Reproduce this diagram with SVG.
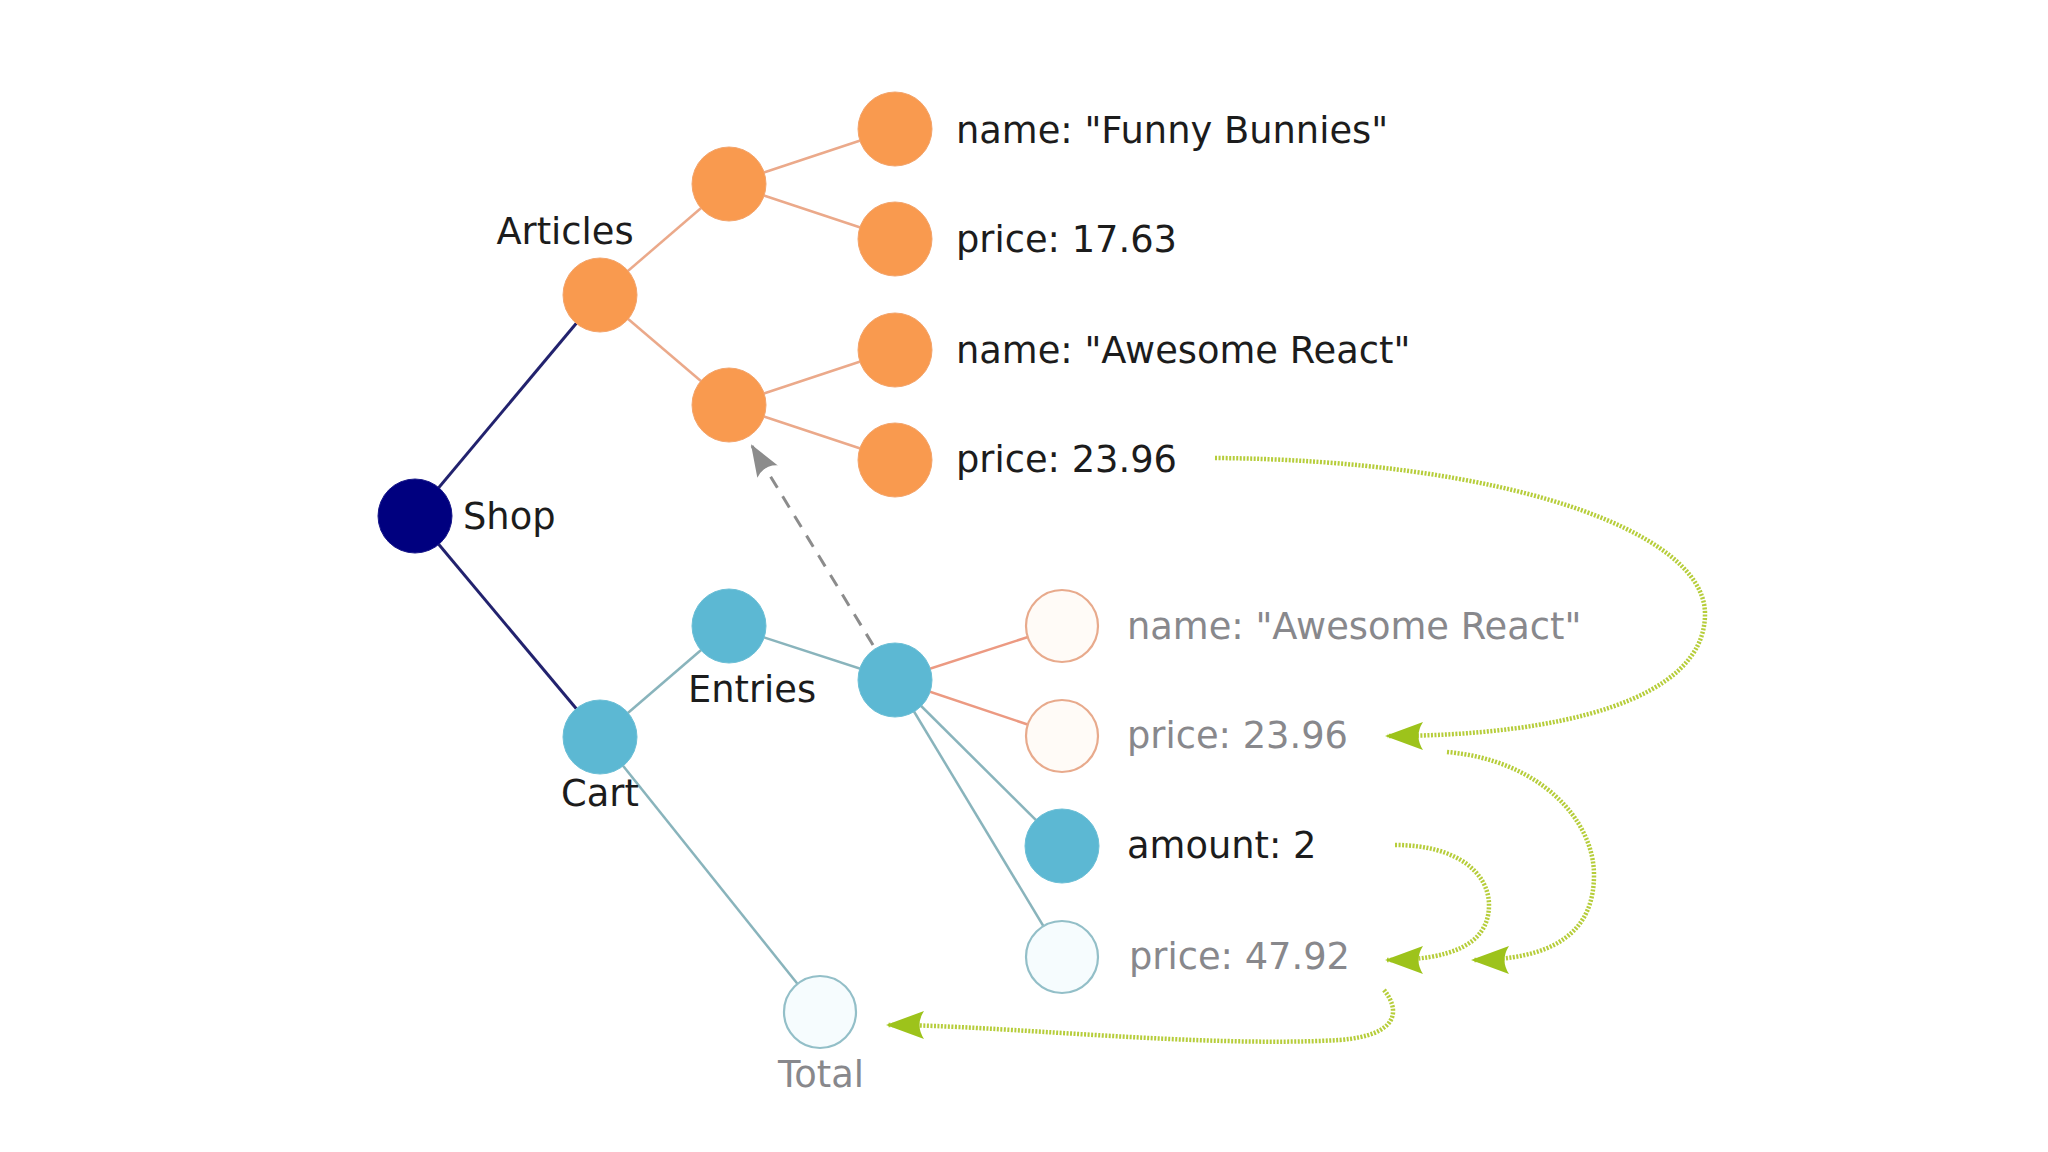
<svg xmlns="http://www.w3.org/2000/svg" width="2048" height="1152" viewBox="0 0 2048 1152">
<style>
  text { font-family: "DejaVu Sans", "Liberation Sans", sans-serif; font-size: 36.8px; }
  .lbl { fill: #1c1c1c; }
  .dim { fill: #88888c; }
  .orange { fill: #f99a4f; stroke: #f3a46c; stroke-width: 1; }
  .blue { fill: #5cb8d3; stroke: #6cbfd6; stroke-width: 1; }
  .navy { fill: #00007f; stroke: #1a1a8a; stroke-width: 1; }
  .hollow-o { fill: #fffbf7; stroke: #e8aa8c; stroke-width: 2.2; }
  .hollow-b { fill: #f6fcfe; stroke: #93bfc8; stroke-width: 2.2; }
  .e-navy { stroke: #22226e; stroke-width: 3; fill: none; }
  .e-orange { stroke: #eba98a; stroke-width: 2.5; fill: none; }
  .e-orange2 { stroke: #ec9a82; stroke-width: 2.5; fill: none; }
  .e-blue { stroke: #89b4bc; stroke-width: 2.5; fill: none; }
  .ref { stroke: #8c8c8c; stroke-width: 3; stroke-dasharray: 13 10; fill: none; }
  .flow { stroke: #b6cd3a; stroke-width: 4.5; stroke-dasharray: 2 1.5; fill: none; }
</style>
<defs>
  <marker id="greenHead" markerUnits="userSpaceOnUse" viewBox="-40 -16 42 32" refX="0" refY="0" markerWidth="42" markerHeight="32" orient="auto" overflow="visible">
    <path d="M2,0 L-36,-14 Q-27,0 -36,14 Z" fill="#9dc31b" stroke="none"/>
  </marker>
  <marker id="grayHead" markerUnits="userSpaceOnUse" viewBox="-32 -13 34 26" refX="0" refY="0" markerWidth="34" markerHeight="26" orient="auto" overflow="visible">
    <path d="M2,0 L-30,-12 Q-22,0 -30,12 Z" fill="#8c8c8c" stroke="none"/>
  </marker>
</defs>
<rect width="2048" height="1152" fill="#ffffff"/>

<g id="connectors">
  <line class="e-navy" x1="415" y1="516" x2="600" y2="295"/>
  <line class="e-navy" x1="415" y1="516" x2="600" y2="737"/>
  <line class="e-orange" x1="600" y1="295" x2="729" y2="184"/>
  <line class="e-orange" x1="600" y1="295" x2="729" y2="405"/>
  <line class="e-orange" x1="729" y1="184" x2="895" y2="129"/>
  <line class="e-orange" x1="729" y1="184" x2="895" y2="239"/>
  <line class="e-orange" x1="729" y1="405" x2="895" y2="350"/>
  <line class="e-orange" x1="729" y1="405" x2="895" y2="460"/>
  <line class="e-blue" x1="600" y1="737" x2="729" y2="626"/>
  <line class="e-blue" x1="600" y1="737" x2="820" y2="1012"/>
  <line class="e-blue" x1="729" y1="626" x2="895" y2="680"/>
  <line class="e-orange2" x1="895" y1="680" x2="1062" y2="626"/>
  <line class="e-orange2" x1="895" y1="680" x2="1062" y2="736"/>
  <line class="e-blue" x1="895" y1="680" x2="1062" y2="846"/>
  <line class="e-blue" x1="895" y1="680" x2="1062" y2="957"/>
  <path class="ref" d="M873,645 L752,446" marker-end="url(#grayHead)"/>
  <path class="flow" d="M1215,458 C1500,460 1705,530 1705,614 C1705,700 1560,736 1387,736" marker-end="url(#greenHead)"/>
  <path class="flow" d="M1447,752 C1540,760 1594,820 1594,875 C1594,935 1550,960 1473,960" marker-end="url(#greenHead)"/>
  <path class="flow" d="M1395,845 C1460,845 1489,875 1489,905 C1489,945 1450,960 1387,960" marker-end="url(#greenHead)"/>
  <path class="flow" d="M1384,990 C1400,1010 1400,1035 1340,1040 C1200,1048 1000,1025 888,1025" marker-end="url(#greenHead)"/>
</g>

<g id="shop">
  <circle class="navy" cx="415" cy="516" r="37"/>
  <text class="lbl" x="463" y="529">Shop</text>
</g>
<g id="articles">
  <circle class="orange" cx="600" cy="295" r="37"/>
  <text class="lbl" x="565" y="244" text-anchor="middle">Articles</text>
</g>
<g id="article1">
  <circle class="orange" cx="729" cy="184" r="37"/>
</g>
<g id="article1-name">
  <circle class="orange" cx="895" cy="129" r="37"/>
  <text class="lbl" x="956" y="143">name: "Funny Bunnies"</text>
</g>
<g id="article1-price">
  <circle class="orange" cx="895" cy="239" r="37"/>
  <text class="lbl" x="956" y="252">price: 17.63</text>
</g>
<g id="article2">
  <circle class="orange" cx="729" cy="405" r="37"/>
</g>
<g id="article2-name">
  <circle class="orange" cx="895" cy="350" r="37"/>
  <text class="lbl" x="956" y="363">name: "Awesome React"</text>
</g>
<g id="article2-price">
  <circle class="orange" cx="895" cy="460" r="37"/>
  <text class="lbl" x="956" y="472">price: 23.96</text>
</g>
<g id="cart">
  <circle class="blue" cx="600" cy="737" r="37"/>
  <text class="lbl" x="600" y="806" text-anchor="middle">Cart</text>
</g>
<g id="entries">
  <circle class="blue" cx="729" cy="626" r="37"/>
  <text class="lbl" x="752" y="702" text-anchor="middle">Entries</text>
</g>
<g id="entry">
  <circle class="blue" cx="895" cy="680" r="37"/>
</g>
<g id="entry-name">
  <circle class="hollow-o" cx="1062" cy="626" r="36"/>
  <text class="dim" x="1127" y="639">name: "Awesome React"</text>
</g>
<g id="entry-price">
  <circle class="hollow-o" cx="1062" cy="736" r="36"/>
  <text class="dim" x="1127" y="748">price: 23.96</text>
</g>
<g id="entry-amount">
  <circle class="blue" cx="1062" cy="846" r="37"/>
  <text class="lbl" x="1127" y="858">amount: 2</text>
</g>
<g id="entry-total">
  <circle class="hollow-b" cx="1062" cy="957" r="36"/>
  <text class="dim" x="1129" y="969">price: 47.92</text>
</g>
<g id="total">
  <circle class="hollow-b" cx="820" cy="1012" r="36"/>
  <text class="dim" x="821" y="1087" text-anchor="middle">Total</text>
</g>
</svg>
